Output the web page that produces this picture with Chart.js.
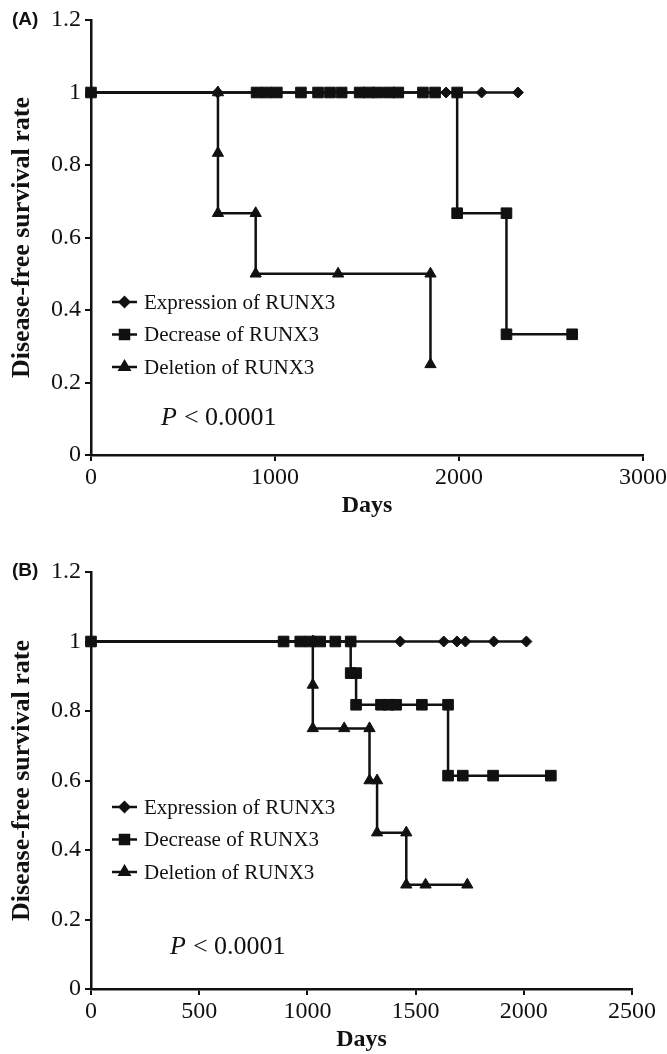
<!DOCTYPE html>
<html>
<head>
<meta charset="utf-8">
<script src="https://cdn.jsdelivr.net/npm/chart.js@4/dist/chart.umd.min.js"></script>
<style>
  html, body { margin: 0; padding: 0; background: #fff; }
  canvas { display: block; }
</style>
</head>
<body>
<canvas id="chart_a" width="667" height="520"></canvas>
<canvas id="chart_b" width="667" height="534"></canvas>
<script>
// series names, same in both panels
const seriesLabels = ['Expression of RUNX3', 'Decrease of RUNX3', 'Deletion of RUNX3'];

// panel A: days / survival rate
const aExpressionDays = [0, 688, 1930, 2123, 2320];
const aExpressionRate = [1, 1, 1, 1, 1];
const aDecreaseDays = [0, 900, 955, 1010, 1141, 1234, 1299, 1362, 1460, 1510, 1560, 1620, 1670, 1804, 1870, 1990, 1990, 2258, 2258, 2615];
const aDecreaseRate = [1, 1, 1, 1, 1, 1, 1, 1, 1, 1, 1, 1, 1, 1, 1, 1, 0.667, 0.667, 0.333, 0.333];
const aDeletionDays = [0, 690, 690, 690, 895, 895, 1343, 1845, 1845];
const aDeletionRate = [1, 1, 0.833, 0.667, 0.667, 0.5, 0.5, 0.5, 0.25];

// panel B
const bExpressionDays = [0, 1429, 1630, 1691, 1730, 1861, 2012];
const bExpressionRate = [1, 1, 1, 1, 1, 1, 1];
const bDecreaseDays = [0, 890, 967, 1013, 1059, 1129, 1200, 1200, 1225, 1225, 1340, 1375, 1410, 1529, 1650, 1650, 1718, 1858, 2125];
const bDecreaseRate = [1, 1, 1, 1, 1, 1, 1, 0.909, 0.909, 0.818, 0.818, 0.818, 0.818, 0.818, 0.818, 0.614, 0.614, 0.614, 0.614];
const bDeletionDays = [0, 1025, 1025, 1025, 1170, 1287, 1287, 1322, 1322, 1457, 1457, 1546, 1739];
const bDeletionRate = [1, 1, 0.875, 0.75, 0.75, 0.75, 0.6, 0.6, 0.45, 0.45, 0.3, 0.3, 0.3];

const yTicksMax = 1.2;
const yTicksStep = 0.2;
const aDaysMax = 3000, aDaysStep = 1000;
const bDaysMax = 2500, bDaysStep = 500;
const pText = '< 0.0001';

const ink = '#111';
const serif = '"Liberation Serif", "Times New Roman", serif';
const marks = [
    { style: 'rectRot', radius: 5.5 },
    { style: 'rect', radius: 7.5 },
    { style: 'triangle', radius: 6.5 },
];

const series = (days, rate) => days.map((d, i) => ({ x: d, y: rate[i] }));
// plain numbers: "1" not "1.0", "1000" not "1,000"
const plain = (v) => String(Math.round(v * 10) / 10);

// panel tag, p value and the in-plot legend
const extras = {
    id: 'extras',
    afterDraw(chart, args, opts) {
        const ctx = chart.ctx;
        ctx.save();
        ctx.fillStyle = ink;
        ctx.strokeStyle = ink;
        ctx.textBaseline = 'middle';
        ctx.textAlign = 'left';

        ctx.font = 'bold 19px "Liberation Sans", Arial, sans-serif';
        ctx.fillText(opts.tag, opts.tagX, opts.tagY);

        ctx.font = 'italic 26px ' + serif;
        ctx.fillText('P', opts.pX, opts.pY);
        const w = ctx.measureText('P').width + 7;
        ctx.font = '26px ' + serif;
        ctx.fillText(pText, opts.pX + w, opts.pY);

        ctx.font = '21px ' + serif;
        chart.data.datasets.forEach((ds, i) => {
            const y = opts.legendY + i * opts.legendGap;
            ctx.lineWidth = 2.5;
            ctx.beginPath();
            ctx.moveTo(opts.legendX, y);
            ctx.lineTo(opts.legendX + 25, y);
            ctx.stroke();
            Chart.helpers.drawPoint(ctx, {
                pointStyle: ds.pointStyle,
                radius: ds.pointRadius * 0.85,
                rotation: 0,
                borderWidth: 1,
            }, opts.legendX + 12.5, y);
            ctx.fillText(ds.label, opts.legendX + 32, y + 1);
        });
        ctx.restore();
    }
};

const make_chart = (canvas, cfg) => new Chart(canvas, {
    type: 'scatter',
    data: {
        datasets: cfg.sets.map((s, i) => ({
            label: seriesLabels[i],
            data: series(s[0], s[1]),
            showLine: true,
            borderColor: ink,
            backgroundColor: ink,
            borderWidth: 2.5,
            pointStyle: marks[i].style,
            pointRadius: marks[i].radius,
            pointHoverRadius: marks[i].radius,
            pointBorderWidth: 1,
            clip: false,
        })),
    },
    options: {
        responsive: false,
        animation: false,
        events: [],
        layout: { padding: { left: 0, top: cfg.top, right: cfg.right, bottom: 0 } },
        plugins: {
            legend: { display: false },
            tooltip: { enabled: false },
            extras: cfg.extras,
        },
        scales: {
            x: {
                type: 'linear',
                min: 0,
                max: cfg.xMax,
                border: { color: ink, width: 2.5 },
                grid: { drawOnChartArea: false, drawTicks: true, tickLength: 6, color: ink, lineWidth: 2 },
                ticks: { stepSize: cfg.xStep, color: ink, font: { family: serif, size: 24 }, padding: 2, maxRotation: 0, autoSkip: false, callback: plain },
                title: { display: true, text: 'Days', color: ink, font: { family: serif, size: 24, weight: 'bold' }, padding: { top: 0, bottom: 0 } },
                afterFit: (s) => { s.height = 65; s.paddingLeft = 0; s.paddingRight = 0; },
            },
            y: {
                min: 0,
                max: yTicksMax,
                border: { color: ink, width: 2.5 },
                grid: { drawOnChartArea: false, drawTicks: true, tickLength: 6, color: ink, lineWidth: 2 },
                ticks: { stepSize: yTicksStep, color: ink, font: { family: serif, size: 24 }, padding: 4, callback: plain },
                title: { display: true, text: 'Disease-free survival rate', color: ink, font: { family: serif, size: 26, weight: 'bold' }, padding: { top: 7, bottom: 0 } },
                afterFit: (s) => { s.width = 91; s.paddingTop = 0; s.paddingBottom = 0; },
            },
        },
    },
    plugins: [extras],
});

make_chart(document.getElementById('chart_a'), {
    sets: [[aExpressionDays, aExpressionRate], [aDecreaseDays, aDecreaseRate], [aDeletionDays, aDeletionRate]],
    xMax: aDaysMax, xStep: aDaysStep, top: 20, right: 24,
    extras: { tag: '(A)', tagX: 12, tagY: 20, pX: 161, pY: 418, legendX: 112, legendY: 302, legendGap: 32.5 },
});

make_chart(document.getElementById('chart_b'), {
    sets: [[bExpressionDays, bExpressionRate], [bDecreaseDays, bDecreaseRate], [bDeletionDays, bDeletionRate]],
    xMax: bDaysMax, xStep: bDaysStep, top: 52, right: 35,
    extras: { tag: '(B)', tagX: 12, tagY: 51, pX: 170, pY: 427, legendX: 112, legendY: 287, legendGap: 32.5 },
});
</script>
</body>
</html>
